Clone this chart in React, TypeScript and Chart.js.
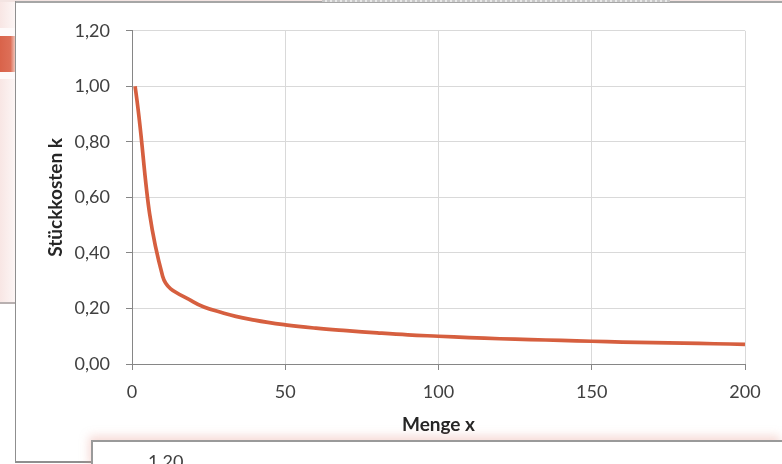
import React, { useEffect, useRef } from "react";
import { Chart, registerables } from "chart.js";

Chart.register(...registerables);

const mengeX: number[] = [1, 10, 20, 30, 40, 50, 60, 70, 80, 90, 100, 110, 120, 130, 140, 150, 160, 170, 180, 190, 200];
const stueckkostenK: number[] = [1.0, 0.316, 0.224, 0.183, 0.158, 0.141, 0.129, 0.12, 0.112, 0.105, 0.1, 0.095, 0.091, 0.088, 0.085, 0.082, 0.079, 0.077, 0.075, 0.073, 0.071];
const xTicks: number[] = [0, 50, 100, 150, 200];
const yTicks: number[] = [0, 0.2, 0.4, 0.6, 0.8, 1.0, 1.2];
const xTitle = "Menge x";
const yTitle = "Stückkosten k";
const lowerChartTick = "1,20";

const FONT = "Lato, 'Open Sans', sans-serif";

export default function App() {
  const canvasRef = useRef<HTMLCanvasElement | null>(null);

  useEffect(() => {
    if (!canvasRef.current) return;
    const chart = new Chart(canvasRef.current, {
      type: "line",
      data: {
        datasets: [
          {
            data: mengeX.map((x, i) => ({ x, y: stueckkostenK[i] })),
            borderColor: "#d65f3f",
            borderWidth: 3.7,
            pointRadius: 0,
            tension: 0.4,
            fill: false,
          },
        ],
      },
      options: {
        animation: false,
        responsive: false,
        maintainAspectRatio: false,
        layout: { padding: { left: 0, right: 37, top: 22, bottom: 0 } },
        plugins: { legend: { display: false }, tooltip: { enabled: false } },
        scales: {
          x: {
            type: "linear",
            min: xTicks[0],
            max: xTicks[xTicks.length - 1],
            afterBuildTicks: (s: any) => {
              s.ticks = xTicks.map((v) => ({ value: v }));
            },
            afterFit: (s: any) => {
              s.height = 76;
            },
            ticks: {
              color: "#404040",
              font: { family: FONT, size: 18 },
              padding: 11,
              maxRotation: 0,
            },
            grid: { color: "#d9d9d9", tickColor: "#868686", tickLength: 6, lineWidth: 1 },
            border: { color: "#868686", width: 1 },
            title: {
              display: true,
              text: xTitle,
              color: "#262626",
              font: { family: FONT, size: 19, weight: "bold" },
              padding: { top: 4, bottom: 4 },
            },
          },
          y: {
            min: yTicks[0],
            max: yTicks[yTicks.length - 1],
            afterBuildTicks: (s: any) => {
              s.ticks = yTicks.map((v) => ({ value: v }));
            },
            afterFit: (s: any) => {
              s.width = 116;
            },
            ticks: {
              color: "#404040",
              font: { family: FONT, size: 18 },
              padding: 16,
              callback: (v: any) => Number(v).toFixed(2).replace(".", ","),
            },
            grid: { color: "#d9d9d9", tickColor: "#868686", tickLength: 6, lineWidth: 1 },
            border: { color: "#868686", width: 1 },
            title: {
              display: true,
              text: yTitle,
              color: "#262626",
              font: { family: FONT, size: 19, weight: "bold" },
              padding: { top: 28, bottom: 28 },
            },
          },
        },
      },
    });
    return () => chart.destroy();
  }, []);

  return (
    <div
      style={{
        position: "fixed",
        left: 0,
        top: 0,
        width: 782,
        height: 464,
        overflow: "hidden",
        background: "#ffffff",
        fontFamily: FONT,
      }}
    >
      {/* left strip of background window */}
      <div
        style={{
          position: "absolute",
          left: 0,
          top: 0,
          width: 15,
          height: 464,
          background: "linear-gradient(to right, #f8e6e4, #fbf1f0 70%, #fdf6f5)",
        }}
      />
      <div style={{ position: "absolute", left: 0, top: 28, width: 15, height: 8, background: "#fefafa" }} />
      <div
        style={{
          position: "absolute",
          left: 0,
          top: 36,
          width: 15,
          height: 36,
          background: "linear-gradient(to right, #d9634a, #dd6f58 70%, #f0c4b9)",
        }}
      />
      <div style={{ position: "absolute", left: 0, top: 72, width: 15, height: 7, background: "#fefafa" }} />
      <div style={{ position: "absolute", left: 0, top: 302, width: 15, height: 2, background: "#b8b0b0" }} />
      <div style={{ position: "absolute", left: 0, top: 304, width: 15, height: 160, background: "#ffffff" }} />
      {/* top bar */}
      <div style={{ position: "absolute", left: 0, top: 0, width: 782, height: 2, background: "#f3e4e2" }} />
      <div style={{ position: "absolute", left: 15, top: 1, width: 767, height: 2, background: "#a6a6a6" }} />
      <div
        style={{
          position: "absolute",
          left: 322,
          top: 0,
          width: 348,
          height: 2,
          background: "repeating-linear-gradient(to right, #c8c8c8 0 3px, #e8e8e8 3px 5px)",
        }}
      />
      {/* main frame left border */}
      <div style={{ position: "absolute", left: 15, top: 1, width: 1, height: 462, background: "#8f8f8f" }} />
      <div style={{ position: "absolute", left: 15, top: 461, width: 76, height: 2, background: "#8f8f8f" }} />
      <canvas
        ref={canvasRef}
        width={766}
        height={436}
        style={{ position: "absolute", left: 16, top: 4, width: 766, height: 436 }}
      />
      {/* lower chart frame */}
      <div
        style={{
          position: "absolute",
          left: 91,
          top: 440,
          width: 691,
          height: 30,
          background: "#ffffff",
          borderTop: "2px solid #9a9a9a",
          borderLeft: "2px solid #9a9a9a",
          boxSizing: "border-box",
          boxShadow: "-2px -4px 9px rgba(228, 150, 138, 0.35)",
        }}
      />
      <div
        style={{
          position: "absolute",
          left: 148,
          top: 450,
          fontSize: 18,
          lineHeight: "22px",
          color: "#404040",
          fontFamily: FONT,
        }}
      >
        {lowerChartTick}
      </div>
    </div>
  );
}
